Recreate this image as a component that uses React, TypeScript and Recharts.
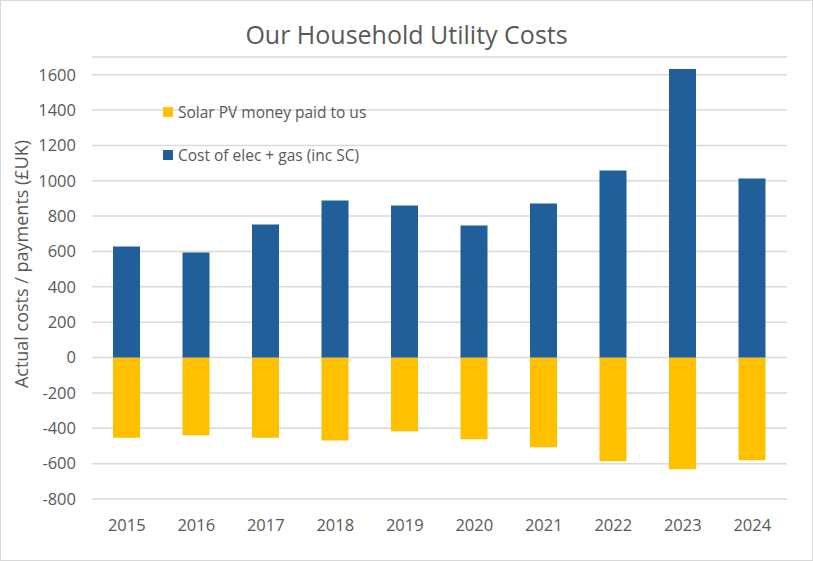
import React from 'react';
import { BarChart, Bar, XAxis, YAxis, CartesianGrid } from 'recharts';

const years = ['2015', '2016', '2017', '2018', '2019', '2020', '2021', '2022', '2023', '2024'];
const solarPaid = [-453, -440, -453, -469, -417, -462, -507, -587, -632, -581];
const energyCost = [628, 594, 753, 889, 860, 747, 872, 1058, 1632, 1013];
const yTicks = [-800, -600, -400, -200, 0, 200, 400, 600, 800, 1000, 1200, 1400, 1600];

const SOLAR_NAME = 'Solar PV money paid to us';
const COST_NAME = 'Cost of elec + gas (inc SC)';
const YELLOW = '#FFC000';
const BLUE = '#215F9A';
const TEXT = '#595959';
const FONT = '"Open Sans", sans-serif';

const data = years.map((year, i) => ({
  year,
  solar: solarPaid[i],
  cost: energyCost[i],
}));

const legendItems = [
  { name: SOLAR_NAME, color: YELLOW },
  { name: COST_NAME, color: BLUE },
];

// rotated axis title, placed from the axis viewBox
const YTitle = ({ viewBox }: any) => {
  const cx = 20;
  const cy = viewBox ? viewBox.y + viewBox.height / 2 - 14 : 272;
  return (
    <text
      x={cx}
      y={cy}
      transform={`rotate(-90, ${cx}, ${cy})`}
      textAnchor="middle"
      dominantBaseline="central"
      fill={TEXT}
      fontSize={18}
      fontFamily={FONT}
    >
      Actual costs / payments (£UK)
    </text>
  );
};

export default function App() {
  return (
    <div
      style={{
        position: 'relative',
        width: 813,
        height: 561,
        boxSizing: 'border-box',
        border: '1px solid #d9d9d9',
        background: '#fff',
      }}
    >
      <style>{'body{margin:0}'}</style>
      <div
        style={{
          position: 'absolute',
          top: 16,
          left: 0,
          width: '100%',
          textAlign: 'center',
          fontFamily: FONT,
          fontSize: 25,
          color: TEXT,
        }}
      >
        Our Household Utility Costs
      </div>
      <BarChart
        width={811}
        height={559}
        data={data}
        stackOffset="sign"
        margin={{ top: 56, right: 25, left: 11, bottom: 21 }}
      >
        <CartesianGrid vertical={false} stroke="#d9d9d9" strokeWidth={1.5} />
        <XAxis
          dataKey="year"
          axisLine={false}
          tickLine={false}
          height={40}
          tickMargin={14}
          tick={{ fill: TEXT, fontSize: 16.5, fontFamily: FONT }}
        />
        <YAxis
          width={80}
          domain={[-800, 1700]}
          ticks={yTicks}
          allowDataOverflow
          axisLine={false}
          tickLine={false}
          tickMargin={10}
          tick={{ fill: TEXT, fontSize: 16.5, fontFamily: FONT }}
          label={<YTitle />}
        />
        <Bar dataKey="solar" name={SOLAR_NAME} stackId="a" fill={YELLOW} barSize={27} isAnimationActive={false} />
        <Bar dataKey="cost" name={COST_NAME} stackId="a" fill={BLUE} barSize={27} isAnimationActive={false} />
      </BarChart>
      <div
        style={{
          position: 'absolute',
          left: 162,
          top: 89,
          fontFamily: FONT,
          fontSize: 15.5,
          color: TEXT,
        }}
      >
        {legendItems.map((item) => (
          <div key={item.name} style={{ display: 'flex', alignItems: 'center', height: 43 }}>
            <span style={{ width: 10, height: 10, background: item.color, marginRight: 5 }} />
            <span>{item.name}</span>
          </div>
        ))}
      </div>
    </div>
  );
}
